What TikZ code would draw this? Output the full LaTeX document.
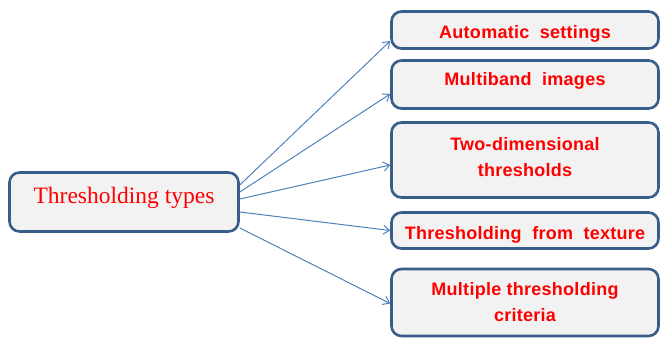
\documentclass[tikz,border=0pt]{standalone}
\usepackage{fontspec}
\setmainfont{Liberation Serif}
\newfontfamily\boxfont[LetterSpace=1.5]{Liberation Sans}
\definecolor{boxblue}{RGB}{56,93,138}
\definecolor{arrowblue}{RGB}{79,129,189}
\definecolor{boxgray}{RGB}{242,242,242}
\usetikzlibrary{arrows.meta}

\begin{document}
\begin{tikzpicture}[x=1pt,y=-1pt,
      typebox/.style={rectangle,rounded corners=10pt,draw=boxblue,fill=boxgray,
                      line width=2.6pt,inner sep=0pt,text=red,align=center},
      leafbox/.style={typebox,minimum width=267pt,
                      font=\boxfont\bfseries\fontsize{18}{26}\selectfont},
      arr/.style={draw=arrowblue,line width=1pt,-{Straight Barb[length=6pt,width=9pt]}}]
    \useasboundingbox (0,0) rectangle (661,341);
    % left box
    \node[typebox,minimum width=229pt,minimum height=59pt,text depth=14pt,
          font=\fontsize{23.5}{28}\selectfont] (types) at (124,202) {Thresholding types};
    % right column
    \node[leafbox,minimum height=37pt,text height=20pt,text depth=4pt] (auto) at (525,30) {Automatic\ \ settings};
    \node[leafbox,minimum height=48pt,text depth=12pt] (multi) at (525,84.5) {Multiband\ \ images};
    \node[leafbox,minimum height=75pt,text depth=6pt] (twodim) at (525,160) {Two-dimensional\\thresholds};
    \node[leafbox,minimum height=36pt,text height=21pt,text depth=4pt] (texture) at (525,230.5) {Thresholding\ \ from\ \ texture};
    \node[leafbox,minimum height=67pt] (multiple) at (525,302.5) {Multiple thresholding\\criteria};
    % connectors
    \draw[arr] ([yshift=17pt]types.east) -- ([yshift=-11pt]auto.west);
    \draw[arr] ([yshift=10pt]types.east) -- ([yshift=-9.5pt]multi.west);
    \draw[arr] ([yshift=3pt]types.east) -- ([yshift=-5pt]twodim.west);
    \draw[arr] ([yshift=-10pt]types.east) -- (texture.west);
    \draw[arr] ([yshift=-26pt]types.east) -- ([yshift=-1pt]multiple.west);
\end{tikzpicture}
\end{document}
